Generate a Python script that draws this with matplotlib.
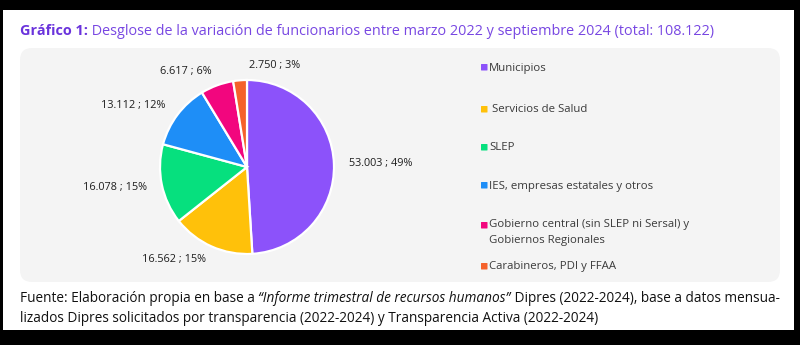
import matplotlib
matplotlib.use("Agg")
import matplotlib.pyplot as plt
from matplotlib.patches import FancyBboxPatch, Rectangle

# data
categories = ["Municipios", " Servicios de Salud", "SLEP", "IES, empresas estatales y otros",
              "Gobierno central (sin SLEP ni Sersal) y\nGobiernos Regionales", "Carabineros, PDI y FFAA"]
values = [53003, 16562, 16078, 13112, 6617, 2750]
pct_labels = ["53.003 ; 49%", "16.562 ; 15%", "16.078 ; 15%", "13.112 ; 12%", "6.617 ; 6%", "2.750 ; 3%"]
colors = ["#8C52FA", "#FFC10A", "#06E07E", "#1E8EF7", "#F2067E", "#F5612B"]

W, H = 800, 345
FONT = "Open Sans"

fig = plt.figure(figsize=(8, 3.45), dpi=100)
fig.patch.set_facecolor("black")


def fx(x):
    return x / W


def fy(y):
    return 1 - y / H


# white card and grey panel
fig.patches.append(Rectangle((fx(3), fy(330)), fx(791), 320 / H, transform=fig.transFigure,
                             facecolor="white", edgecolor="none", zorder=-2))
fig.patches.append(FancyBboxPatch((fx(20), fy(282)), fx(760), 234 / H, transform=fig.transFigure,
                                  boxstyle="round,pad=0,rounding_size=0.015",
                                  facecolor="#F4F4F4", edgecolor="none", zorder=-1,
                                  mutation_aspect=W / H))

renderer = fig.canvas.get_renderer()


def runs(x, y, parts, size, va="baseline"):
    # draw consecutive text pieces with different styles on one line
    for txt, kw in parts:
        t = fig.text(fx(x), fy(y), txt, fontsize=size, family=FONT, va=va, **kw)
        bb = t.get_window_extent(renderer=renderer)
        x += bb.width


# title
runs(20, 35, [("Gráfico 1:", dict(color="#6A33DC", fontweight="bold")),
              (" Desglose de la variación de funcionarios entre marzo 2022 y septiembre 2024 (total: 108.122)",
               dict(color="#7847E2"))], 10.4)

# pie
r = 87
cx, cy = 247, 167
ax = fig.add_axes([fx(cx - r), fy(cy + r), 2 * r / W, 2 * r / H])
ax.set_zorder(2)
ax.patch.set_alpha(0)
wedges, texts = ax.pie(values, colors=colors, startangle=90, counterclock=False,
                       labels=pct_labels, labeldistance=1.17,
                       wedgeprops=dict(edgecolor="white", linewidth=1.6),
                       textprops=dict(fontsize=7.8, family=FONT, color="#1e1e1e"))
ax.set_xlim(-1, 1)
ax.set_ylim(-1, 1)
ax.set_aspect("equal")
texts[-1].set_horizontalalignment("left")
texts[-1].set_x(0.02)

# legend
leg_y = [68, 110, 148, 186, 226, 267]
for lab, c, y in zip(categories, colors, leg_y):
    fig.patches.append(FancyBboxPatch((fx(481), fy(y + 2.5)), fx(6.5), 6.5 / H, transform=fig.transFigure,
                                      boxstyle="round,pad=0,rounding_size=0.001",
                                      facecolor=c, edgecolor="none", zorder=2))
    fig.text(fx(489), fy(y), lab, fontsize=8.2, family=FONT, color="#3a3a3a",
             va="top" if "\n" in lab else "center", linespacing=1.6)
# two-line entry: first line centred on marker
fig.texts[-2].set_y(fy(226 - 7))

# footer
runs(20, 302, [("Fuente: Elaboración propia en base a ", dict(color="#111111")),
               ("\u201cInforme trimestral de recursos humanos\u201d", dict(color="#111111", style="italic")),
               (" Dipres (2022-2024), base a datos mensua-", dict(color="#111111"))], 9.8)
runs(20, 322, [("lizados Dipres solicitados por transparencia (2022-2024) y Transparencia Activa (2022-2024)",
                dict(color="#111111"))], 9.8)

fig.savefig("out.png", dpi=100, facecolor=fig.get_facecolor())
